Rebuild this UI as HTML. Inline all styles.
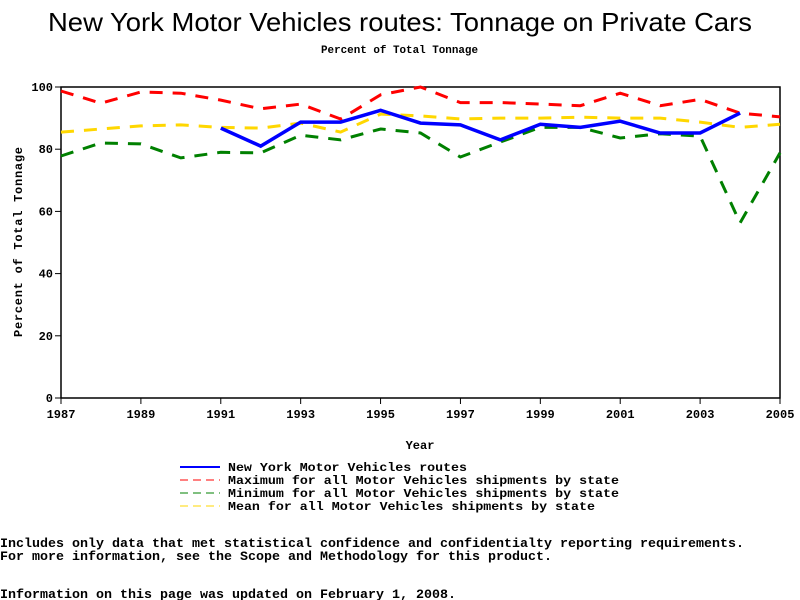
<!DOCTYPE html>
<html><head><meta charset="utf-8"><style>
body{margin:0;background:#fff;width:800px;height:600px;overflow:hidden}
svg{display:block}
.m{font-family:"Liberation Mono","DejaVu Sans Mono",monospace;font-weight:bold}
</style></head><body>
<svg id="c" width="800" height="600" xmlns="http://www.w3.org/2000/svg">
<text x="48" y="31" textLength="704" lengthAdjust="spacingAndGlyphs" font-family="Liberation Sans, sans-serif" font-size="26">New York Motor Vehicles routes: Tonnage on Private Cars</text>
<text x="321" y="53" textLength="157" lengthAdjust="spacingAndGlyphs" class="m" font-size="11">Percent of Total Tonnage</text>
<g id="axes"></g>
<g id="series"></g>
<text x="420" y="449" text-anchor="middle" class="m" font-size="12">Year</text>
<text transform="translate(22,242) rotate(-90)" text-anchor="middle" class="m" font-size="12" textLength="190">Percent of Total Tonnage</text>
<g class="m" font-size="12">
<line x1="180" y1="467" x2="220" y2="467" stroke="#0000ff" stroke-width="2"/>
<text x="228" y="471" textLength="239" lengthAdjust="spacingAndGlyphs">New York Motor Vehicles routes</text>
<line x1="180" y1="480" x2="220" y2="480" stroke="#ff0000" stroke-dasharray="8,5"/>
<text x="228" y="484" textLength="391" lengthAdjust="spacingAndGlyphs">Maximum for all Motor Vehicles shipments by state</text>
<line x1="180" y1="493" x2="220" y2="493" stroke="#008000" stroke-dasharray="8,5"/>
<text x="228" y="497" textLength="391" lengthAdjust="spacingAndGlyphs">Minimum for all Motor Vehicles shipments by state</text>
<line x1="180" y1="506" x2="220" y2="506" stroke="#ffd700" stroke-dasharray="8,5"/>
<text x="228" y="510" textLength="367" lengthAdjust="spacingAndGlyphs">Mean for all Motor Vehicles shipments by state</text>
</g>
<g class="m" font-size="12.5">
<text x="0" y="547" textLength="744" lengthAdjust="spacingAndGlyphs">Includes only data that met statistical confidence and confidentialty reporting requirements.</text>
<text x="0" y="560" textLength="552" lengthAdjust="spacingAndGlyphs">For more information, see the Scope and Methodology for this product.</text>
<text x="0" y="598" textLength="456" lengthAdjust="spacingAndGlyphs">Information on this page was updated on February 1, 2008.</text>
</g>
</svg>
<script>
const years=[1987,1988,1989,1990,1991,1992,1993,1994,1995,1996,1997,1998,1999,2000,2001,2002,2003,2004,2005];
const nyValues=[null,null,null,null,86.8,81,88.7,88.7,92.5,88.4,87.8,83,88,87,89,85.2,85.2,91.6,null];
const maxValues=[98.7,94.8,98.4,98,95.8,93,94.5,89.7,97.5,100,95,95,94.5,94,98,94,96,91.6,90.4];
const minValues=[77.8,82,81.7,77.2,79,78.8,84.5,83,86.5,85.2,77.5,82.3,87,87,83.6,85,84.2,56.3,78.8];
const meanValues=[85.5,86.5,87.5,87.8,87,86.8,88.4,85.5,91.3,90.7,89.7,90,90,90.3,90,90,88.7,87,88];
const yTicks=[0,20,40,60,80,100];
const xTicks=[1987,1989,1991,1993,1995,1997,1999,2001,2003,2005];
const NS="http://www.w3.org/2000/svg";
const X0=61,X1=780,Y0=398,Y1=87;
const xs=v=>X0+(v-1987)/(2005-1987)*(X1-X0);
const ys=v=>Y0-v/100*(Y0-Y1);
function mk(t,a,p){const e=document.createElementNS(NS,t);for(const k in a)e.setAttribute(k,a[k]);p.appendChild(e);return e;}
const ax=document.getElementById('axes');
const frame=mk('rect',{x:X0,y:Y1,width:X1-X0,height:Y0-Y1,fill:'none',stroke:'#000','stroke-width':1.5},ax);


yTicks.forEach(t=>{
 const l=mk('line',{x1:X0-6,x2:X0,y1:ys(t),y2:ys(t),stroke:'#000'},ax);
 
 
 const tx=mk('text',{x:X0-8,y:ys(t)+4,'text-anchor':'end','class':'m','font-size':12},ax);
 tx.textContent=t;
 
 
});
xTicks.forEach(t=>{
 const l=mk('line',{x1:xs(t),x2:xs(t),y1:Y0,y2:Y0+6,stroke:'#000'},ax);
 
 
 const tx=mk('text',{x:xs(t),y:Y0+20,'text-anchor':'middle','class':'m','font-size':12},ax);
 tx.textContent=t;
 
 
});
const sg=document.getElementById('series');
function line(vals,color,w,dash,name){
 let d='',pen=false;
 vals.forEach((v,i)=>{if(v==null){pen=false;return;}d+=(pen?'L':'M')+xs(years[i]).toFixed(1)+','+ys(v).toFixed(1);pen=true;});
 const a={d:d,fill:'none',stroke:color,'stroke-width':w};if(dash)a['stroke-dasharray']=dash;
 const p=mk('path',a,sg);
 
 
}
line(maxValues,'#ff0000',3,'13,10','max-line');
line(meanValues,'#ffd700',3,'13,10','mean-line');
line(minValues,'#008000',3,'13,10','min-line');
line(nyValues,'#0000ff',3.5,null,'new-york-line');
</script>
</body></html>
